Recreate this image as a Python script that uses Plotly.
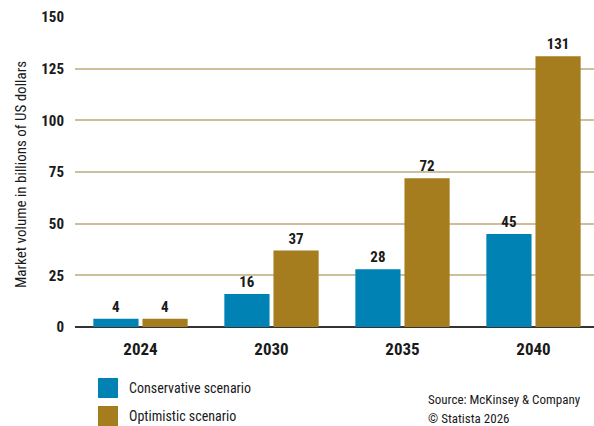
import plotly.graph_objects as go

years = ["2024", "2030", "2035", "2040"]
conservative = [4, 16, 28, 45]
optimistic = [4, 37, 72, 131]
series_names = ["Conservative scenario", "Optimistic scenario"]
y_ticks = [0, 25, 50, 75, 100, 125, 150]

BLUE = "#0083b4"
GOLD = "#a57d1e"
FONT = "Roboto Condensed, Roboto, sans-serif"

W, H = 594, 426
ML, MR, MT, MB = 75, 0, 17, 99
PW = W - ML - MR
PH = H - MT - MB

fig = go.Figure()
for name, vals, col in [(series_names[0], conservative, BLUE), (series_names[1], optimistic, GOLD)]:
    fig.add_trace(go.Bar(
        x=years, y=vals, name=name, marker_color=col, marker_line_width=0,
        text=[str(v) for v in vals], textposition="outside",
        textfont=dict(family=FONT, size=15, color="#1a1a1a", weight="bold"),
        cliponaxis=False, showlegend=False,
    ))

fig.update_layout(
    width=W, height=H,
    margin=dict(l=ML, r=MR, t=MT, b=MB),
    paper_bgcolor="white", plot_bgcolor="white",
    barmode="group", bargap=0.25, bargroupgap=0.08,
    font=dict(family=FONT, color="#1a1a1a"),
    xaxis=dict(
        type="category", range=[-0.5, 3.5 - 5 / 131],
        showgrid=False, showline=False, ticks="",
        tickfont=dict(family=FONT, size=17, color="#1a1a1a", weight="bold"),
        ticklabelstandoff=10,
    ),
    yaxis=dict(
        range=[0, 150], tickvals=y_ticks,
        showgrid=True, gridcolor="#cdbf9c", gridwidth=1.5,
        zeroline=True, zerolinecolor="#333333", zerolinewidth=2,
        showline=False, ticks="",
        tickfont=dict(family=FONT, size=15, color="#1a1a1a", weight="bold"),
        ticklabelstandoff=10,
    ),
)

# Y-axis title
fig.add_annotation(
    text="Market volume in billions of US dollars", textangle=-90,
    xref="paper", yref="paper", x=(21 - ML) / PW, y=(327 - 175) / PH,
    xanchor="center", yanchor="middle", showarrow=False,
    font=dict(family=FONT, size=15, color="#1a1a1a"),
)

# Legend (manual)
legend_rows = [(series_names[0], BLUE, 388), (series_names[1], GOLD, 416)]
for name, col, yc in legend_rows:
    y0 = (327 - (yc + 10)) / PH
    y1 = (327 - (yc - 10)) / PH
    fig.add_shape(type="rect", xref="paper", yref="paper",
                  x0=(98 - ML) / PW, x1=(118 - ML) / PW, y0=y0, y1=y1,
                  fillcolor=col, line_width=0)
    fig.add_annotation(text=name, xref="paper", yref="paper",
                       x=(127 - ML) / PW, y=(327 - yc) / PH,
                       xanchor="left", yanchor="middle", showarrow=False,
                       font=dict(family=FONT, size=14, color="#1a1a1a"))

# Source
for txt, yc in [("Source: McKinsey & Company", 399), ("© Statista 2026", 418)]:
    fig.add_annotation(text=txt, xref="paper", yref="paper",
                       x=(426 - ML) / PW, y=(327 - yc) / PH,
                       xanchor="left", yanchor="middle", showarrow=False,
                       font=dict(family=FONT, size=13, color="#1a1a1a"))

fig.write_html("out.html")
